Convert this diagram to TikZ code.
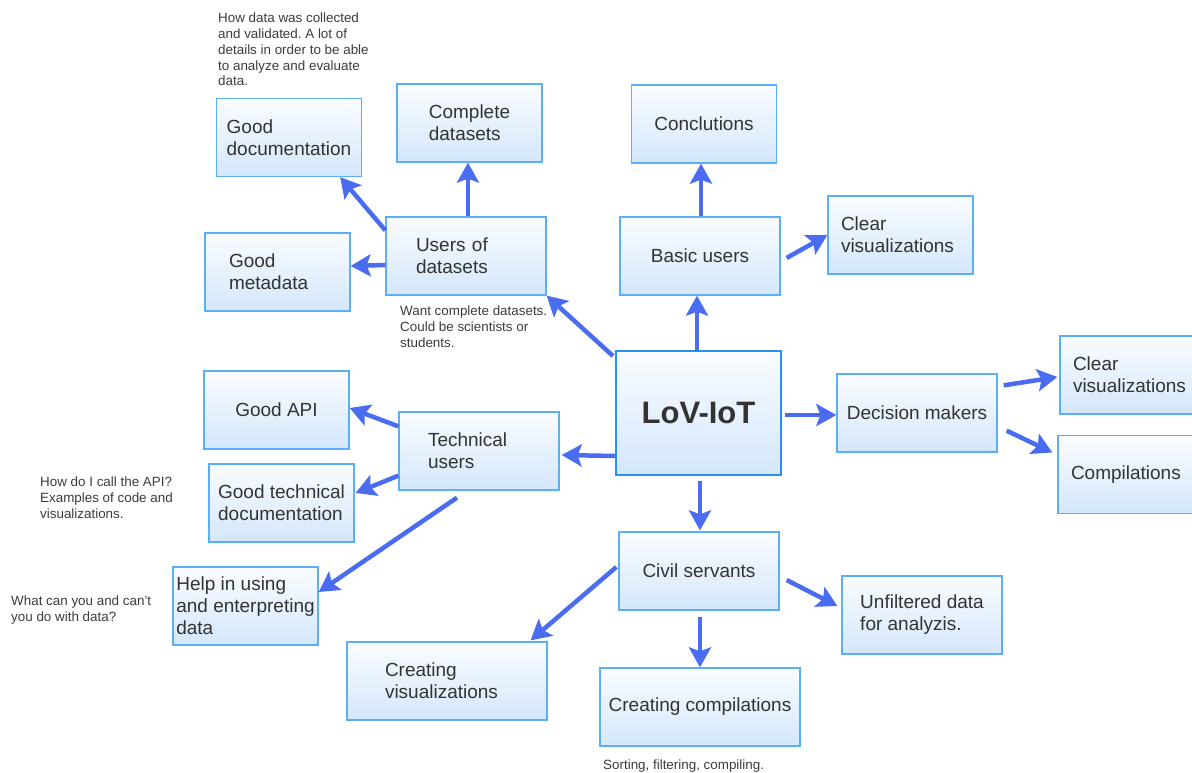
\documentclass[tikz,border=0pt]{standalone}
\usepackage{fontspec}
\setmainfont{Liberation Sans}
\usetikzlibrary{arrows.meta}
\definecolor{arrowblue}{HTML}{4A6CF0}
\definecolor{boxline}{HTML}{5AAEFA}
\definecolor{hubline}{HTML}{2B8FF5}
\definecolor{boxtop}{HTML}{FAFCFF}
\definecolor{boxbot}{HTML}{D4E7FB}
\definecolor{txt}{HTML}{333333}
\definecolor{notetxt}{HTML}{3C3C3C}
\newcommand{\boxfont}{\fontsize{19}{22}\selectfont}
\newcommand{\notefont}{\fontsize{13.4}{15.7}\selectfont}
\frenchspacing

\begin{document}
\begin{tikzpicture}[
  x=1pt, y=-1pt,
  box/.style={draw=boxline, line width=1.3pt, top color=boxtop, bottom color=boxbot, minimum width=145pt, minimum height=78pt, align=left, inner sep=2pt, text=txt, font=\boxfont},
  wide/.style={minimum width=160pt},
  wider/.style={minimum width=200pt},
  hub/.style={box, draw=hubline, line width=2pt, minimum width=165pt, minimum height=124pt, font={\fontsize{31}{36}\selectfont\bfseries}},
  note/.style={anchor=north west, align=left, inner sep=0pt, text=notetxt, font=\notefont},
  arr/.style={-{Stealth[length=20pt, width=22pt, inset=4pt]}, line width=4.5pt, draw=arrowblue}
]
  \useasboundingbox (0,0) rectangle (1192,773);

  \node[hub] (lov) at (698.5,413) {LoV-IoT};

  \node[box, wide, text width=100pt] (users) at (466,256) {Users of\\datasets};
  \node[box] (gdoc) at (289,137.5) {Good\\documentation};
  \node[box] (cdata) at (469.5,123) {Complete\\datasets};
  \node[box, text width=97pt] (gmeta) at (277.5,272) {Good\\metadata};

  \node[box, wide] (basic) at (700,256) {Basic users};
  \node[box] (concl) at (704,124) {Conclutions};
  \node[box, text width=119pt] (clearA) at (900.5,235) {Clear\\visualizations};

  \node[box, wide] (decis) at (917,413) {Decision makers};
  \node[box, text width=119pt] (clearB) at (1132.5,375) {Clear\\visualizations};
  \node[box, text width=119pt] (compil) at (1130.5,474.5) {Compilations};

  \node[box, wide, text width=102pt] (tech) at (479,451) {Technical\\users};
  \node[box] (gapi) at (276.5,410) {Good API};
  \node[box] (gtdoc) at (281.5,503) {Good technical\\documentation};
  \node[box] (help) at (245.5,606) {Help in using\\and enterpreting\\data};

  \node[box, wide] (civil) at (699,571) {Civil servants};
  \node[box, wide] (unfilt) at (922,615) {Unfiltered data\\for analyzis.};
  \node[box, wider, text width=124pt] (cvis) at (447,681) {Creating\\visualizations};
  \node[box, wider] (ccomp) at (700,707) {Creating compilations};

  \node[note] (docnote) at (218,13) {How data was collected\\and validated. A lot of\\details in order to be able\\to analyze and evaluate\\data.};
  \node[note] (usersnote) at (400,306) {Want complete datasets.\\Could be scientists or\\students.};
  \node[note] (apinote) at (40,477) {How do I call the API?\\Examples of code and\\visualizations.};
  \node[note] (helpnote) at (11,596) {What can you and can't\\you do with data?};
  \node[note] (compnote) at (603,760) {Sorting, filtering, compiling.};

  \draw[arr] ([yshift=-14pt]users.north west) -- ([xshift=-22pt]gdoc.south east);
  \draw[arr] ([xshift=2pt]users.north) -- ([xshift=-1.5pt]cdata.south);
  \draw[arr] ([yshift=-9pt]users.west) -- ([yshift=6pt]gmeta.east);
  \draw[arr] ([xshift=-2pt,yshift=-6pt]lov.north west) -- (users.south east);
  \draw[arr] ([xshift=-1.5pt]lov.north) -- ([xshift=-3pt]basic.south);
  \draw[arr] ([xshift=1pt]basic.north) -- ([xshift=-3pt]concl.south);
  \draw[arr] ([xshift=6pt,yshift=-2pt]basic.east) -- (clearA.west);
  \draw[arr] ([xshift=3pt,yshift=-2pt]lov.east) -- ([yshift=-2pt]decis.west);
  \draw[arr] ([xshift=6pt,yshift=-12pt]decis.north east) -- ([xshift=-2pt,yshift=-2pt]clearB.west);
  \draw[arr] ([xshift=9pt,yshift=22pt]decis.south east) -- ([xshift=-5pt,yshift=22pt]compil.west);
  \draw[arr] ([yshift=20pt]lov.south west) -- ([xshift=2pt,yshift=-4pt]tech.east);
  \draw[arr] ([yshift=-15pt]tech.north west) -- ([yshift=2pt]gapi.east);
  \draw[arr] ([yshift=15pt]tech.south west) -- ([xshift=1pt,yshift=10pt]gtdoc.east);
  \draw[arr] ([xshift=-22pt,yshift=-7pt]tech.south) -- ([yshift=14pt]help.east);
  \draw[arr] ([xshift=1.5pt,yshift=-5pt]lov.south) -- ([xshift=1pt,yshift=1pt]civil.north);
  \draw[arr] ([xshift=-2pt,yshift=4pt]civil.west) -- ([xshift=-17pt,yshift=1pt]cvis.north east);
  \draw[arr] ([xshift=1pt,yshift=-6pt]civil.south) -- (ccomp.north);
  \draw[arr] ([xshift=7pt,yshift=-9pt]civil.east) -- ([xshift=-4pt,yshift=9pt]unfilt.west);
\end{tikzpicture}
\end{document}
